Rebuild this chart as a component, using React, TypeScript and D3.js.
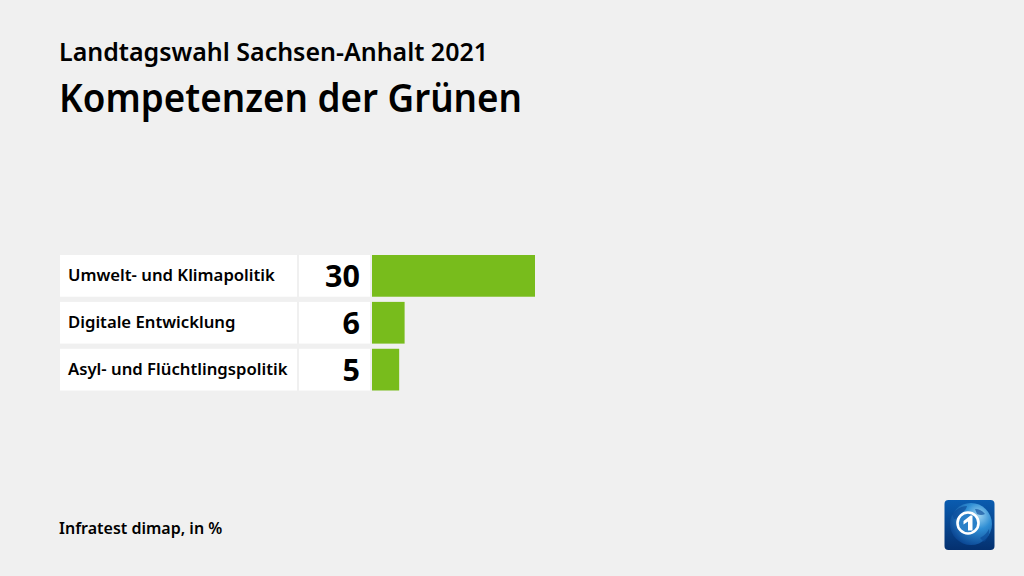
import React from "react";
import * as d3 from "d3";

const categories = ["Umwelt- und Klimapolitik", "Digitale Entwicklung", "Asyl- und Flüchtlingspolitik"];
const values = [30, 6, 5];
const title = "Landtagswahl Sachsen-Anhalt 2021";
const heading = "Kompetenzen der Grünen";
const source = "Infratest dimap, in %";

const FONT = "'Noto Sans', sans-serif";
const WIDTH = 1024;
const HEIGHT = 576;

export default function App() {
  const x = d3.scaleLinear().domain([0, 30]).range([372, 535]);
  const y = d3.scaleBand().domain(categories).range([255, 390.5]).paddingInner(0.11).paddingOuter(0);
  const bh = y.bandwidth();
  return (
    <svg
      width={WIDTH}
      height={HEIGHT}
      viewBox={`0 0 ${WIDTH} ${HEIGHT}`}
      style={{ position: "fixed", left: 0, top: 0, display: "block", fontFamily: FONT }}
    >
      <defs>
        <linearGradient id="tile" x1="0" y1="0" x2="0" y2="1">
          <stop offset="0" stopColor="#0a5cb0" />
          <stop offset="1" stopColor="#04306f" />
        </linearGradient>
        <radialGradient id="globe" cx="0.68" cy="0.3" r="0.8">
          <stop offset="0" stopColor="#9ed4f2" />
          <stop offset="0.4" stopColor="#2f8ed4" />
          <stop offset="1" stopColor="#07408e" />
        </radialGradient>
      </defs>
      <rect width={WIDTH} height={HEIGHT} fill="#f0f0f0" />
      <text x={59} y={61} fontSize={25} fontWeight={600} fill="#000" textLength={429} lengthAdjust="spacingAndGlyphs">{title}</text>
      <text x={59} y={112} fontSize={39} fontWeight={600} fill="#000" textLength={463} lengthAdjust="spacingAndGlyphs">{heading}</text>
      {categories.map((c, i) => {
        const top = y(c) as number;
        const mid = top + bh / 2;
        return (
          <g key={c}>
            <rect x={60} y={top} width={237} height={bh} fill="#fff" />
            <rect x={299} y={top} width={71} height={bh} fill="#fff" />
            <rect x={x(0)} y={top} width={x(values[i]) - x(0)} height={bh} fill="#78bc1c" />
            <text x={68} y={mid + 5} fontSize={16.7} fontWeight={600} fill="#000">{c}</text>
            <text x={360} y={mid + 11} fontSize={30.5} fontWeight={700} fill="#000" textAnchor="end">{values[i]}</text>
          </g>
        );
      })}
      <text x={59} y={534} fontSize={16} fontWeight={600} fill="#000">{source}</text>
      <g>
        <rect x={944.5} y={500} width={50} height={50} rx={4} fill="url(#tile)" />
        <circle cx={971} cy={524} r={21} fill="url(#globe)" />
        <path d="M952 514 q7 -8 15 -8 q-1 5 -7 8 q-2 5 -6 5 z M980 538 q6 -3 9 -9 q1 8 -5 13 z M975 509 q6 0 10 5 q-4 2 -8 0 z" fill="#0a4a98" opacity={0.65} />
        <circle cx={968} cy={523} r={10.5} fill="#2a80c8" stroke="#fff" strokeWidth={2.6} />
        <path d="M963.5 521 L970.5 515.5 L972.5 515.5 L972.5 530.5 L968 530.5 L968 521.5 L963.5 524.5 Z" fill="#fff" />
      </g>
    </svg>
  );
}
